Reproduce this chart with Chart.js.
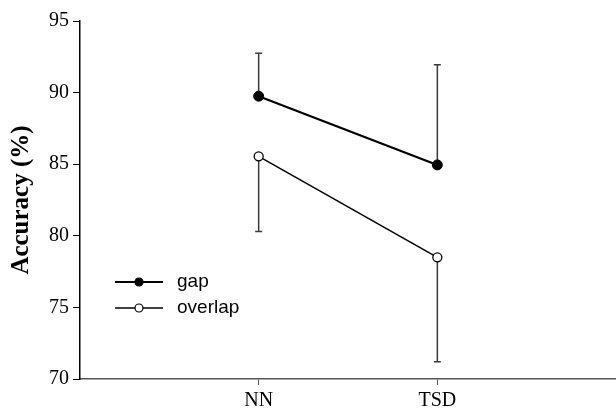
<!DOCTYPE html>
<html>
<head>
<meta charset="utf-8">
<script src="https://cdn.jsdelivr.net/npm/chart.js@4"></script>
<style>
  html, body { margin: 0; padding: 0; background: #fff; }
  #wrap { width: 616px; height: 416px; }
</style>
</head>
<body>
<div id="wrap"><canvas id="myChart" width="616" height="416"></canvas></div>
<script>
const conditions = ['NN', 'TSD'];
const gapMeans = [89.75, 84.95];
const gapUpper = [92.75, 91.95];
const overlapMeans = [85.55, 78.5];
const overlapLower = [80.3, 71.2];
const yTicks = [70, 75, 80, 85, 90, 95];

const toPoints = (arr) => arr.map((v, i) => ({ x: i + 1, y: v }));

// draws the one-sided error bars with little caps
const errorBars = {
  id: 'errorBars',
  beforeDatasetsDraw(chart) {
    const ctx = chart.ctx;
    const xs = chart.scales.x, ys = chart.scales.y;
    const sets = [[gapMeans, gapUpper], [overlapMeans, overlapLower]];
    ctx.save();
    ctx.strokeStyle = '#3a3a3a';
    ctx.lineWidth = 1.5;
    sets.forEach(([means, ends]) => {
      means.forEach((m, i) => {
        const px = xs.getPixelForValue(i + 1);
        const y0 = ys.getPixelForValue(m);
        const y1 = ys.getPixelForValue(ends[i]);
        ctx.beginPath();
        ctx.moveTo(px, y0);
        ctx.lineTo(px, y1);
        ctx.moveTo(px - 3.5, y1);
        ctx.lineTo(px + 3.5, y1);
        ctx.stroke();
      });
    });
    ctx.restore();
  }
};

// legend drawn in the lower left like the original
const sideLegend = {
  id: 'sideLegend',
  afterDraw(chart) {
    const ctx = chart.ctx;
    const items = chart.data.datasets;
    ctx.save();
    ctx.font = '19px "Liberation Sans", Arial, sans-serif';
    ctx.textBaseline = 'middle';
    items.forEach((ds, i) => {
      const y = 282 + i * 26;
      ctx.strokeStyle = '#000';
      ctx.lineWidth = ds.borderWidth;
      ctx.beginPath();
      ctx.moveTo(115, y);
      ctx.lineTo(163, y);
      ctx.stroke();
      ctx.beginPath();
      ctx.arc(139, y, 4, 0, Math.PI * 2);
      ctx.fillStyle = ds.pointBackgroundColor;
      ctx.fill();
      ctx.lineWidth = 1.2;
      ctx.stroke();
      ctx.fillStyle = '#000';
      ctx.fillText(ds.label, 177, y);
    });
    ctx.restore();
  }
};

const data = {
  datasets: [{
    label: 'gap',
    data: toPoints(gapMeans),
    borderColor: '#000',
    borderWidth: 2.2,
    pointRadius: 5,
    pointBackgroundColor: '#000',
    pointBorderColor: '#000',
    pointBorderWidth: 1
  }, {
    label: 'overlap',
    data: toPoints(overlapMeans),
    borderColor: '#000',
    borderWidth: 1.5,
    pointRadius: 4.5,
    pointBackgroundColor: '#fff',
    pointBorderColor: '#000',
    pointBorderWidth: 1.3
  }]
};

const config = {
  type: 'line',
  data: data,
  plugins: [errorBars, sideLegend],
  options: {
    responsive: false,
    animation: false,
    layout: { autoPadding: false, padding: { top: 21, right: 0, left: 0, bottom: 0 } },
    plugins: {
      legend: { display: false },
      tooltip: { enabled: false }
    },
    scales: {
      x: {
        type: 'linear',
        min: 0,
        max: 3,
        afterBuildTicks: (s) => { s.ticks = conditions.map((c, i) => ({ value: i + 1 })); },
        afterFit: (s) => { s.height = 37; s.paddingLeft = 0; s.paddingRight = 0; },
        grid: { drawOnChartArea: false, color: '#555', tickLength: 6 },
        border: { color: '#555', width: 1.5 },
        ticks: {
          color: '#000',
          padding: 4,
          font: { family: '"Liberation Serif", "Times New Roman", serif', size: 20 },
          callback: (v) => conditions[v - 1]
        }
      },
      y: {
        min: 70,
        max: 95,
        afterBuildTicks: (s) => { s.ticks = yTicks.map(v => ({ value: v })); },
        afterFit: (s) => { s.width = 80; },
        grid: { drawOnChartArea: false, color: '#000', tickLength: 7 },
        border: { color: '#000', width: 1.5 },
        title: {
          display: true,
          text: 'Accuracy (%)',
          color: '#000',
          padding: { top: 7, bottom: 0 },
          font: { family: '"Liberation Serif", "Times New Roman", serif', size: 25, weight: 'bold' }
        },
        ticks: {
          color: '#000',
          padding: 4,
          font: { family: '"Liberation Serif", "Times New Roman", serif', size: 20 }
        }
      }
    }
  }
};

const myChart = new Chart(document.getElementById('myChart'), config);
</script>
</body>
</html>
